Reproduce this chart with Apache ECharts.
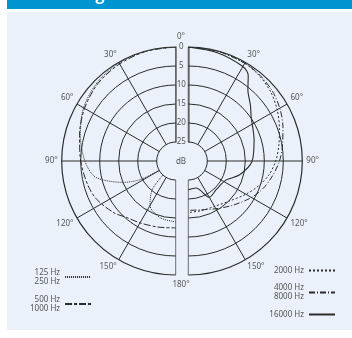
<!DOCTYPE html>
<html><head><meta charset="utf-8">
<script src="https://cdn.jsdelivr.net/npm/echarts@6/dist/echarts.min.js"></script>
<style>html,body{margin:0;padding:0;background:#fff}#c{width:352px;height:338px}</style>
</head><body><div id="c"></div><script>
// Polar response, level in dB below on-axis, angle in degrees from the front
const lowAngles   = [0, 15, 30, 45, 60, 75, 90, 100, 105, 112, 118, 125, 140, 150, 165, 180];
const low125_250  = [0, 0, 0.2, 0.8, 2.0, 4.0, 6.1, 8.0, 10.5, 15, 20, 30, 20.7, 16.5, 14.5, 14];
const midAngles   = [0, 15, 30, 45, 60, 75, 90, 105, 116, 130, 139, 150, 165, 180];
const mid500_1000 = [0, 0.1, 0.5, 1.1, 2.3, 3.8, 5.0, 6.0, 6.9, 8.8, 10.3, 11.2, 12.0, 12.4];
const hiAngles    = [0, 15, 30, 40, 50, 60, 70, 80, 90, 100, 110, 120, 135, 150, 165, 180];
const hi2000      = [0, 0.1, 0.3, 0.8, 1.7, 3.0, 4.5, 5.8, 7.0, 8.5, 10.5, 12.5, 15, 16.2, 16.5, 16.4];
const hi4000_8000 = [0, 0.1, 0.3, 0.6, 1.2, 2.2, 3.5, 4.8, 6, 7.5, 9, 10.8, 13.5, 15.5, 16.7, 17];
const topAngles   = [0, 15, 30, 35, 40, 48, 55, 72, 90, 105, 117, 135, 150, 164, 180];
const hi16000     = [0, 0.5, 1.3, 2.5, 5.6, 8, 9.8, 11.8, 13.2, 16, 18.9, 19.5, 19, 22.6, 22.4];
const angleTicks  = [0, 30, 60, 90, 120, 150, 180];
const dbTicks     = [0, 5, 10, 15, 20, 25];
const names = ['125 Hz\n250 Hz', '500 Hz\n1000 Hz', '2000 Hz', '4000 Hz\n8000 Hz', '16000 Hz'];

const pairs = (angles, vals) => angles.map((a, i) => [vals[i], a]);

const ink = '#2b2b2b';
const labelColor = '#555';
const font = 'Noto Sans';
const cy = 161, R = 114;
const leftX = 175.7, rightX = 188.3;

function angleAxis(idx, isLeft) {
  return {
    polarIndex: idx, type: 'value', min: 0, max: 180, interval: 30,
    startAngle: 90, endAngle: isLeft ? 270 : -90, clockwise: !isLeft,
    axisLine: { show: false },
    axisTick: { show: false },
    axisLabel: {
      margin: 4, fontSize: 8, color: labelColor, fontFamily: font,
      formatter: v => (v === 0 || v === 180) ? '' : v + '°'
    },
    splitLine: { lineStyle: { color: [ink, ink, ink, ink, ink, ink, '#6e6e6e'], width: 1 } }
  };
}
function radiusAxis(idx, showLabels) {
  return {
    polarIndex: idx, type: 'value', min: 0, max: 25, interval: 5, inverse: true,
    axisLine: { lineStyle: { color: '#6e6e6e', width: 1.5 } },
    axisTick: { show: false },
    axisLabel: { show: showLabels, margin: 7, fontSize: 8, color: labelColor, fontFamily: font, align: 'center', verticalAlign: 'middle' },
    splitLine: { show: false }
  };
}
// dB rings drawn as half arcs on each side
function rings(idx, isLeft) {
  return {
    type: 'custom', coordinateSystem: 'polar', polarIndex: idx, silent: true, z: 1,
    data: dbTicks.map(d => [d, 0]),
    renderItem: (params, api) => {
      const cs = params.coordSys;
      const top = api.coord([api.value(0), 0]);
      const r = cs.cy - top[1];
      return {
        type: 'arc',
        shape: { cx: cs.cx, cy: cs.cy, r, startAngle: -Math.PI / 2, endAngle: Math.PI / 2, clockwise: !isLeft },
        style: { stroke: ink, lineWidth: api.value(0) === 0 ? 1.2 : 1, fill: null }
      };
    }
  };
}
function curve(name, idx, data, dash, width) {
  return {
    name, type: 'line', coordinateSystem: 'polar', polarIndex: idx, z: 3,
    data, symbol: 'none', smooth: 0.3, clip: false, silent: true,
    itemStyle: { color: ink },
    lineStyle: { color: ink, width: width || 1, type: dash }
  };
}
const legendBase = {
  orient: 'vertical', align: 'right', itemWidth: 26, itemHeight: 10, padding: 0,
  selectedMode: false, itemStyle: { opacity: 0 },
  textStyle: { fontSize: 8, color: labelColor, fontFamily: font, lineHeight: 9 }
};

const chart = echarts.init(document.getElementById('c'), null, { renderer: 'canvas' });
chart.setOption({
  animation: false,
  backgroundColor: '#fff',
  graphic: [
    { type: 'rect', shape: { x: 7, y: 0, width: 345, height: 9 }, style: { fill: '#0095d0' }, z: -10 },
    { type: 'text', x: 25, y: -13, style: { text: 'Polar diagram', fill: '#fff', font: 'bold 16px "Open Sans"' }, z: -9 },
    { type: 'rect', shape: { x: 7, y: 12, width: 345, height: 318 }, style: { fill: '#eaf1fa' }, z: -10 },
    { type: 'text', x: 181, y: 37, style: { text: '0°', fill: labelColor, font: '8px "Noto Sans"', align: 'center', verticalAlign: 'middle' } },
    { type: 'text', x: 181, y: 285, style: { text: '180°', fill: labelColor, font: '8px "Noto Sans"', align: 'center', verticalAlign: 'middle' } },
    { type: 'text', x: 181, y: 162, style: { text: 'dB', fill: labelColor, font: '8px "Noto Sans"', align: 'center', verticalAlign: 'middle' } }
  ],
  polar: [
    { center: [leftX, cy], radius: [19, R] },
    { center: [rightX, cy], radius: [19, R] }
  ],
  angleAxis: [angleAxis(0, true), angleAxis(1, false)],
  radiusAxis: [radiusAxis(0, false), radiusAxis(1, true)],
  legend: [
    Object.assign({ data: [names[0], names[1]], left: 30, top: 268, itemGap: 9 }, legendBase),
    Object.assign({ data: [names[2], names[3], names[4]], right: 16, top: 266, itemGap: 8.5 }, legendBase)
  ],
  series: [
    rings(0, true), rings(1, false),
    curve(names[0], 0, pairs(lowAngles, low125_250), [1, 1]),
    curve(names[1], 0, pairs(midAngles, mid500_1000), [7, 2, 3, 2]),
    curve(names[2], 1, pairs(hiAngles, hi2000), [2, 2]),
    curve(names[3], 1, pairs(hiAngles, hi4000_8000), [6, 2, 1, 2]),
    curve(names[4], 1, pairs(topAngles, hi16000), 'solid', 1.1)
  ]
});
</script></body></html>
